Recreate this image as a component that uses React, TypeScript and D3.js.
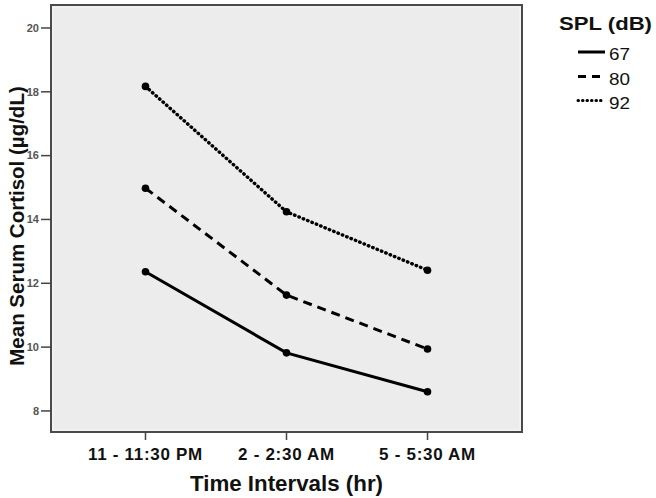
import React from 'react';
import * as d3 from 'd3';

const timeIntervals = ['11 - 11:30 PM', '2 - 2:30 AM', '5 - 5:30 AM'];
const splLevels = ['67', '80', '92'];
const cortisol67 = [12.36, 9.82, 8.6];
const cortisol80 = [14.98, 11.63, 9.94];
const cortisol92 = [18.17, 14.24, 12.41];
const yTicks = [8, 10, 12, 14, 16, 18, 20];

const dashFor: Record<string, string | undefined> = {
  '67': undefined,
  '80': '9 6',
  '92': '0.5 4.2',
};

const App = () => {
  const width = 656;
  const height = 498;
  const plot = { left: 51, top: 5, right: 522, bottom: 432 };
  const font = '"Liberation Sans", Arial, sans-serif';

  const series = [
    { level: splLevels[0], values: cortisol67 },
    { level: splLevels[1], values: cortisol80 },
    { level: splLevels[2], values: cortisol92 },
  ];

  const x = d3
    .scalePoint<string>()
    .domain(timeIntervals)
    .range([plot.left, plot.right])
    .padding(0.67);

  const y = d3
    .scaleLinear()
    .domain([7.34, 20.72])
    .range([plot.bottom, plot.top]);

  const line = d3
    .line<number>()
    .x((_, i) => x(timeIntervals[i]) as number)
    .y((d) => y(d));

  const legendX = 578;
  const legendY = [52, 76.5, 100.5];

  return (
    <div style={{ position: 'absolute', left: 0, top: 0 }}>
      <svg width={width} height={height} style={{ display: 'block', background: '#fff', fontFamily: font }}>
        <rect
          x={plot.left}
          y={plot.top}
          width={plot.right - plot.left}
          height={plot.bottom - plot.top}
          fill="#ececec"
          stroke="#4a4a4a"
          strokeWidth={2}
        />
        <rect
          x={plot.left + 2}
          y={plot.top + 2}
          width={plot.right - plot.left - 4}
          height={plot.bottom - plot.top - 4}
          fill="none"
          stroke="#f6f6f6"
          strokeWidth={1}
        />

        <g key="y-axis">
          {yTicks.map((t) => (
            <g key={`yt-${t}`} transform={`translate(0,${y(t)})`}>
              <line x1={plot.left - 10} x2={plot.left} stroke="#444" strokeWidth={1.5} />
              <text x={plot.left - 12} dy="0.35em" textAnchor="end" fontSize={11} fontWeight="bold" fill="#555">
                {t}
              </text>
            </g>
          ))}
          <text
            transform={`translate(17,226) rotate(-90)`}
            textAnchor="middle"
            dy="0.35em"
            fontSize={20.5}
            fontWeight="bold"
            fill="#111"
          >
            Mean Serum Cortisol (µg/dL)
          </text>
        </g>

        <g key="x-axis">
          {timeIntervals.map((t) => (
            <g key={`xt-${t}`} transform={`translate(${x(t)},0)`}>
              <line y1={plot.bottom} y2={plot.bottom + 8} stroke="#444" strokeWidth={1.5} />
              <text y={454} dy="0.35em" textAnchor="middle" fontSize={17} fontWeight="bold" fill="#111" letterSpacing={0.7}>
                {t}
              </text>
            </g>
          ))}
          <text
            x={(plot.left + plot.right) / 2}
            y={483}
            dy="0.35em"
            textAnchor="middle"
            fontSize={21.5}
            fontWeight="bold"
            fill="#111"
            textLength={193}
            lengthAdjust="spacingAndGlyphs"
          >
            Time Intervals (hr)
          </text>
        </g>

        <g key="series">
          {series.map((s) => (
            <g key={`s-${s.level}`}>
              <path
                d={line(s.values) as string}
                fill="none"
                stroke="#000"
                strokeWidth={s.level === '92' ? 3.4 : 3}
                strokeDasharray={dashFor[s.level]}
                strokeLinecap={s.level === '92' ? 'round' : 'butt'}
              />
              {s.values.map((v, i) => (
                <circle key={`p-${s.level}-${i}`} cx={x(timeIntervals[i])} cy={y(v)} r={3.8} fill="#000" />
              ))}
            </g>
          ))}
        </g>

        <g key="legend">
          <text
            x={559}
            y={24}
            dy="0.35em"
            fontSize={18}
            fontWeight="bold"
            fill="#111"
            textLength={93}
            lengthAdjust="spacingAndGlyphs"
          >
            SPL (dB)
          </text>
          {splLevels.map((l, i) => (
            <g key={`lg-${l}`} transform={`translate(0,${legendY[i]})`}>
              <line
                x1={legendX}
                x2={legendX + 27}
                stroke="#000"
                strokeWidth={3}
                strokeDasharray={l === '80' ? '8 6' : l === '92' ? '0.5 4' : undefined}
                strokeLinecap={l === '92' ? 'round' : 'butt'}
              />
              <text x={legendX + 31} y={2} dy="0.36em" fontSize={17} fill="#111" textLength={21} lengthAdjust="spacingAndGlyphs">
                {l}
              </text>
            </g>
          ))}
        </g>
      </svg>
    </div>
  );
};

export default App;
